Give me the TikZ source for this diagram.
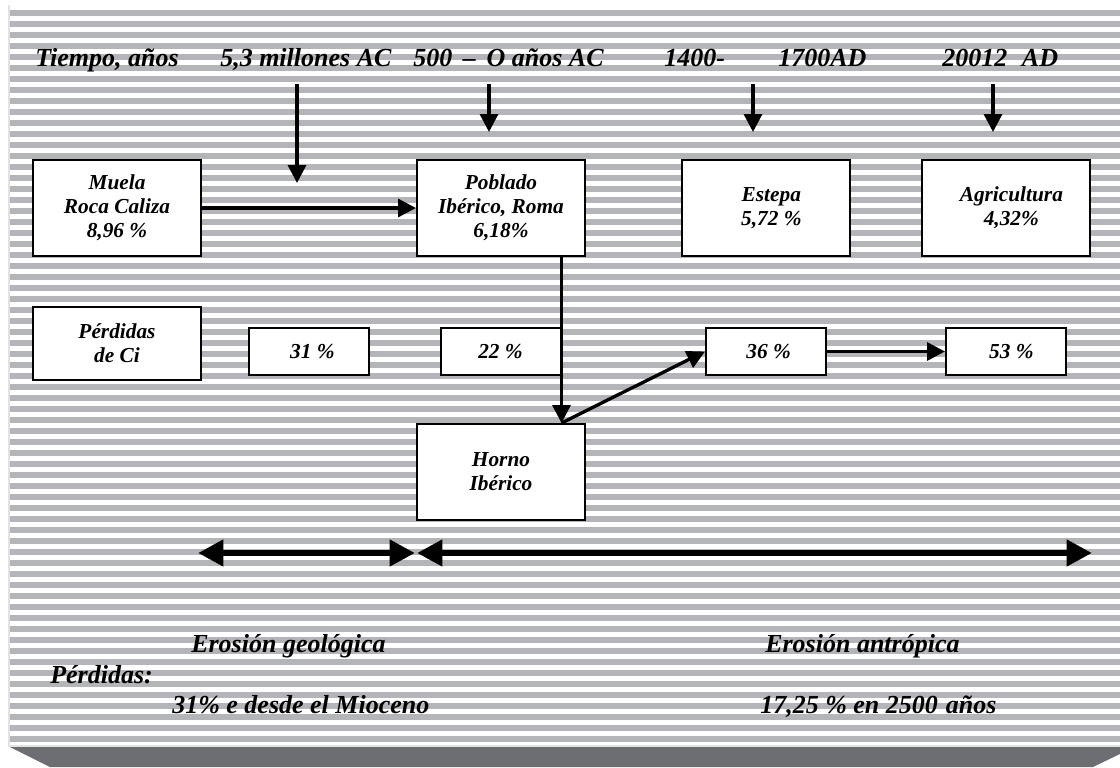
\documentclass[tikz,border=0pt]{standalone}
\usepackage{fontspec}
\setmainfont{Liberation Serif}
\usetikzlibrary{arrows.meta}
\definecolor{stripe}{HTML}{B4B5B9}
\definecolor{band}{HTML}{6D6E72}
\definecolor{edgecol}{HTML}{E2E2E4}
\begin{document}
\begin{tikzpicture}[x=0.75pt,y=-0.75pt,
  lab/.style={font=\fontsize{19.5}{23}\selectfont\bfseries\itshape, inner sep=0pt},
  box/.style={draw, line width=1.5pt, fill=white, inner sep=0pt, align=center,
    font=\fontsize{16}{18}\selectfont\bfseries\itshape},
  bigbox/.style={box, minimum width=126pt, minimum height=72pt},
  smallbox/.style={box, minimum width=90pt, minimum height=35.25pt},
  arr/.style={line width=2.5pt, -{Triangle[length=13.5pt,width=13.5pt]}},
  dbl/.style={line width=5pt, {Triangle[length=19pt,width=19pt]}-{Triangle[length=19pt,width=19pt]}}
]
\useasboundingbox (0,0) rectangle (1120,767);
\fill[white] (0,0) rectangle (1120,767);
\fill[edgecol] (8,5) rectangle (10,747);
\foreach \k in {0,...,66} \fill[stripe] (10,{10+11*\k}) rectangle (1120,{16+11*\k});
\fill[edgecol] (10,745) rectangle (1120,747);
\fill[band] (10,747) -- (1120,747) -- (1120,754) -- (1093,767) -- (50,767) -- cycle;

% top labels
\node[lab, anchor=base west] (tiempo) at (35,67) {Tiempo, años};
\node[lab, anchor=base west] (mill) at (220,67) {5,3 millones AC};
\node[lab, anchor=base west] (quin) at (413,67) {500\hspace{8pt}–\hspace{8pt}O años AC};
\node[lab, anchor=base west] (mil4) at (664,67) {1400-\hspace{40pt}1700AD};
\node[lab, anchor=base west] (dosm) at (942,67) {20012\hspace{11pt}AD};

% boxes
\node[bigbox] (muela) at (117,208) {Muela\\Roca Caliza\\8,96 \%};
\node[bigbox] (poblado) at (501,208) {Poblado\\Ibérico, Roma\\6,18\%};
\node[bigbox] (estepa) at (766,208) {\hspace{8pt}Estepa\\\hspace{8pt}5,72 \%};
\node[bigbox] (agri) at (1006,208) {\hspace{8pt}Agricultura\\\hspace{8pt}4,32\%};
\node[box, minimum width=126pt, minimum height=54.75pt] (perd) at (117,343.5) {Pérdidas\\de Ci};
\node[smallbox] (b31) at (309,351.5) {\hspace{5pt}31 \%};
\node[smallbox] (b22) at (500.5,351.5) {22 \%};
\node[smallbox] (b36) at (766,351.5) {\hspace{4pt}36 \%};
\node[smallbox] (b53) at (1006,351.5) {\hspace{8pt}53 \%};
\node[bigbox] (horno) at (501,472) {Horno\\Ibérico};

% down arrows from time labels
\coordinate (s1) at (297,84); \coordinate (e1) at (297,183);
\coordinate (s2) at (489,84); \coordinate (e2) at (489,132);
\coordinate (s3) at (753,84); \coordinate (e3) at (753,132);
\coordinate (s4) at (993,84); \coordinate (e4) at (993,132);
\draw[arr] (s1) -- (e1);
\draw[arr] (s2) -- (e2);
\draw[arr] (s3) -- (e3);
\draw[arr] (s4) -- (e4);

% connectors
\draw[arr] (muela.east) -- (poblado.west);
\coordinate (hn) at (horno.north -| b22.east);
\draw[arr] (poblado.south -| b22.east) -- (hn);
\draw[arr] (hn) -- (b36.west);
\draw[arr] (b36.east) -- (b53.west);

% double arrows
\coordinate (d1) at (198,553); \coordinate (d2) at (415,553);
\coordinate (d3) at (417,553); \coordinate (d4) at (1092,553);
\draw[dbl] (d1) -- (d2);
\draw[dbl] (d3) -- (d4);

% bottom labels
\node[lab, anchor=base west] (geo) at (191,652) {Erosión geológica};
\node[lab, anchor=base west] (antr) at (765,652) {Erosión antrópica};
\node[lab, anchor=base west] (perdl) at (50,683) {Pérdidas:};
\node[lab, anchor=base west] (mio) at (172,713) {31\% e desde el Mioceno};
\node[lab, anchor=base west] (anos) at (760,713) {17,25 \% en 2500\hspace{6pt}años};
\end{tikzpicture}
\end{document}
